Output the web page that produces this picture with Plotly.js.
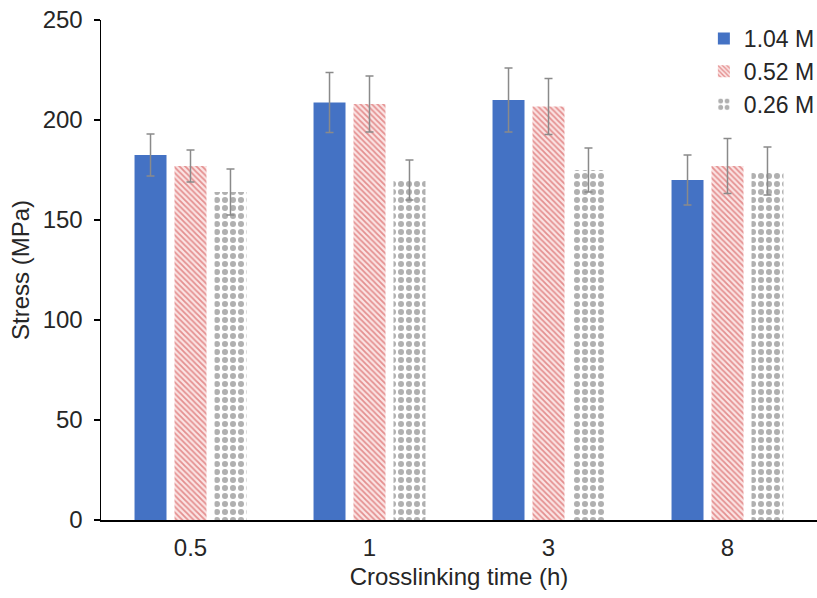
<!DOCTYPE html>
<html>
<head>
<meta charset="utf-8">
<script src="https://cdn.plot.ly/plotly-3.0.1.min.js"></script>
<style>html,body{margin:0;padding:0;background:#fff;}#chart{width:817px;height:598px;}</style>
</head>
<body>
<div id="chart"></div>
<script>
const categories = ["0.5", "1", "3", "8"];
const seriesNames = ["1.04 M", "0.52 M", "0.26 M"];
const values104 = [182.5, 208.7, 210, 170];
const errors104 = [10.5, 15, 16, 12.5];
const values052 = [177, 208, 206.7, 177];
const errors052 = [8, 14, 14, 13.7];
const values026 = [164, 170, 175, 174.5];
const errors026 = [11.5, 10, 11, 12];

const errStyle = (arr) => ({type: 'data', array: arr, visible: true, color: '#8a8a8a', thickness: 1.5, width: 4});
const font = {family: 'Liberation Sans, Arial, sans-serif', color: '#262626'};
const F = (s) => Object.assign({size: s}, font);

const traces = [
  {type: 'bar', name: seriesNames[0], x: categories, y: values104, error_y: errStyle(errors104),
   marker: {color: '#4472C4', line: {width: 0}}},
  {type: 'bar', name: seriesNames[1], x: categories, y: values052, error_y: errStyle(errors052),
   marker: {color: '#fbe4e4', line: {width: 0},
     pattern: {shape: '\\', fgcolor: '#e48f8f', bgcolor: '#fbe4e4', size: 4, solidity: 0.45}}},
  {type: 'bar', name: seriesNames[2], x: categories, y: values026, error_y: errStyle(errors026),
   marker: {color: '#ffffff', line: {width: 0},
     pattern: {shape: '.', fgcolor: '#b0b0b0', bgcolor: '#ffffff', size: 8, solidity: 0.45}}}
];

const layout = {
  width: 817, height: 598,
  margin: {l: 101, r: 0, t: 20, b: 78, autoexpand: false},
  paper_bgcolor: '#fff', plot_bgcolor: '#fff',
  barmode: 'group', bargap: 0.33, bargroupgap: 0.2,
  font: F(24),
  showlegend: true,
  legend: {x: 0.842, xanchor: 'left', y: 1.006, yanchor: 'top', bgcolor: 'rgba(0,0,0,0)',
    font: F(23), itemwidth: 30, tracegroupgap: 0},
  xaxis: {type: 'category', showline: true, linecolor: '#000', linewidth: 1.5, ticks: '',
    showgrid: false, zeroline: false, tickfont: F(24), ticklabelstandoff: 6,
    title: {text: 'Crosslinking time (h)', font: F(24), standoff: 8}},
  yaxis: {range: [0, 250], dtick: 50, showline: true, linecolor: '#000', linewidth: 1.5,
    ticks: 'outside', ticklen: 6, tickwidth: 1.5, tickcolor: '#000', showgrid: false, zeroline: false,
    tickfont: F(24), ticklabelstandoff: 6,
    title: {text: 'Stress (MPa)', font: F(24), standoff: 6}}
};

Plotly.newPlot('chart', traces, layout, {displayModeBar: false, staticPlot: true});
</script>
</body>
</html>
